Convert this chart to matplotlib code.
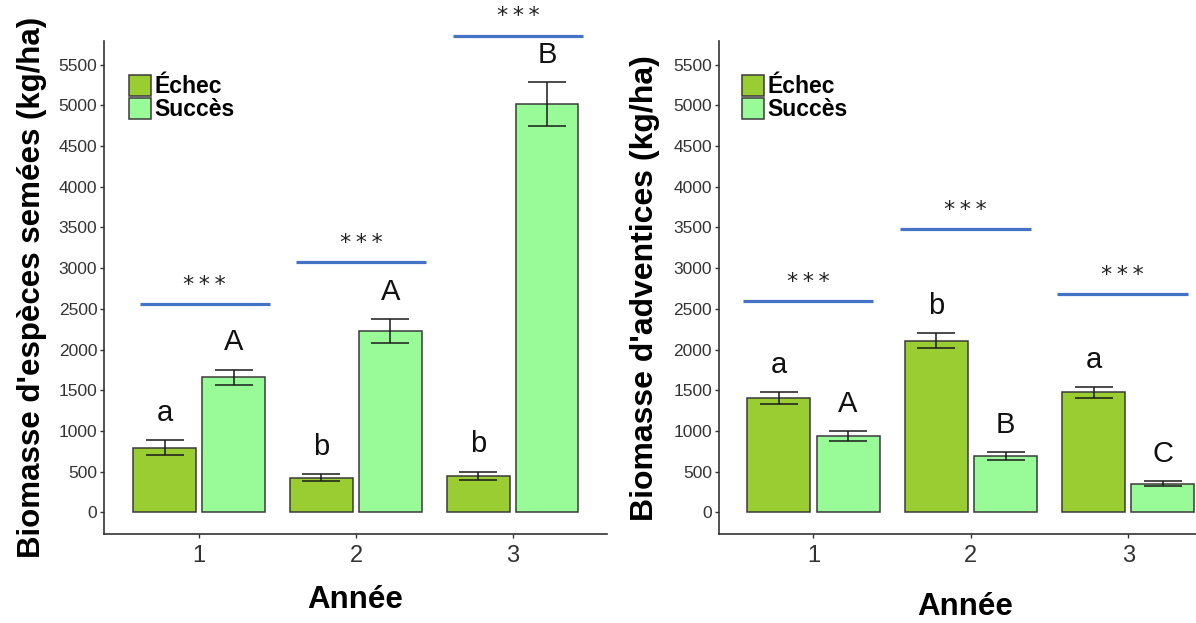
import matplotlib
matplotlib.use("Agg")
import matplotlib.pyplot as plt
import numpy as np
from matplotlib.patches import Patch

plt.rcParams['font.family'] = ['Liberation Sans', 'DejaVu Sans']

years = [1, 2, 3]
groups = ["Échec", "Succès"]

# Left panel: biomass of sown species (kg/ha)
sown_echec = [794, 425, 450]
sown_echec_se = [90, 41, 51]
sown_succes = [1658, 2231, 5016]
sown_succes_se = [96, 147, 270]
sown_letters_echec = ["a", "b", "b"]
sown_letters_succes = ["A", "A", "B"]
sown_sig_height = [2559, 3071, 5855]

# Right panel: weed biomass (kg/ha)
weed_echec = [1400, 2110, 1474]
weed_echec_se = [74, 90, 70]
weed_succes = [942, 688, 352]
weed_succes_se = [60, 51, 33]
weed_letters_echec = ["a", "b", "a"]
weed_letters_succes = ["A", "B", "C"]
weed_sig_height = [2592, 3477, 2678]

sig_label = "*\u2009*\u2009*"
yticks = list(range(0, 5501, 500))

col_echec = "#9ACD32"
col_succes = "#98FB98"
edge = "#3a3a3a"
blue = "#4472C4"
axcol = "#333333"

fig = plt.figure(figsize=(11.96, 6.23), dpi=100)
W, H = 1196, 623

def make_ax(left_px, right_px, top_px, bottom_px):
    return fig.add_axes([left_px / W, 1 - bottom_px / H,
                         (right_px - left_px) / W, (bottom_px - top_px) / H])

axL = make_ax(104.3, 606.7, 41, 534.3)
axR = make_ax(719, 1196, 41, 534.3)

def draw(ax, e, ese, s, sse, le, ls, sig, xlim, sig_span, ylabel, ylab_x, xlab_pos, ylab_size):
    x = np.array(years, dtype=float)
    off = 0.22
    w = 0.40
    ax.bar(x - off, e, width=w, color=col_echec, edgecolor=edge, linewidth=1.1, zorder=2)
    ax.bar(x + off, s, width=w, color=col_succes, edgecolor=edge, linewidth=1.1, zorder=2)
    ax.errorbar(x - off, e, yerr=ese, fmt='none', ecolor='#1a1a1a', elinewidth=1.1,
                capsize=13.5, capthick=1.1, zorder=3)
    ax.errorbar(x + off, s, yerr=sse, fmt='none', ecolor='#1a1a1a', elinewidth=1.1,
                capsize=13.5, capthick=1.1, zorder=3)
    for xi, v, se_, lab in zip(x - off, e, ese, le):
        ax.text(xi, v + se_ + 235, lab, ha='center', va='baseline', fontsize=21, color='#111111')
    for xi, v, se_, lab in zip(x + off, s, sse, ls):
        ax.text(xi, v + se_ + 235, lab, ha='center', va='baseline', fontsize=21, color='#111111')
    for xi, h in zip(x, sig):
        ax.plot([xi + sig_span[0], xi + sig_span[1]], [h, h], color=blue, lw=2.3,
                clip_on=False, zorder=4, solid_capstyle='butt')
        ax.text(xi + (sig_span[0] + sig_span[1]) / 2, h + 165, sig_label,
                ha='center', va='baseline', fontsize=16, family='DejaVu Sans',
                color='#222222', clip_on=False)
    ax.set_xlim(*xlim)
    ax.set_ylim(-270, 5790)
    ax.set_xticks(years)
    ax.set_xticklabels([str(y) for y in years])
    ax.set_yticks(yticks)
    ax.set_yticklabels([str(t) for t in yticks])
    for sp in ['top', 'right']:
        ax.spines[sp].set_visible(False)
    for sp in ['left', 'bottom']:
        ax.spines[sp].set_color(axcol)
        ax.spines[sp].set_linewidth(1.2)
    ax.tick_params(axis='y', labelsize=12.5, colors=axcol, length=3, width=1, pad=2)
    ax.tick_params(axis='x', labelsize=17, colors=axcol, length=3, width=1, pad=5)
    ax.set_ylabel(ylabel, fontsize=ylab_size, fontweight='bold')
    ax.yaxis.set_label_coords(ylab_x, 0.5)
    ax.set_xlabel("Année", fontsize=22.5, fontweight='bold')
    ax.xaxis.set_label_coords(*xlab_pos)
    ax.xaxis.label.set_va('center')
    ax.yaxis.label.set_va('center')
    handles = [Patch(facecolor=col_echec, edgecolor=edge, linewidth=1.1),
               Patch(facecolor=col_succes, edgecolor=edge, linewidth=1.1)]
    ax.legend(handles, groups, loc='upper left', bbox_to_anchor=(0.049, 0.931),
              borderaxespad=0, borderpad=0, frameon=False, handlelength=0.95,
              handleheight=1.0, handletextpad=0.15, labelspacing=0.0,
              prop={'size': 16.5, 'weight': 'bold'})

draw(axL, sown_echec, sown_echec_se, sown_succes, sown_succes_se,
     sown_letters_echec, sown_letters_succes, sown_sig_height,
     (0.394, 3.6), (-0.38, 0.45), "Biomasse d'espèces semées (kg/ha)", -0.144,
     (0.499, -0.133), 22.5)
draw(axR, weed_echec, weed_echec_se, weed_succes, weed_succes_se,
     weed_letters_echec, weed_letters_succes, weed_sig_height,
     (0.40, 3.43), (-0.45, 0.38), "Biomasse d'adventices (kg/ha)", -0.155,
     (0.516, -0.148), 23)

fig.savefig("out.png", dpi=100)
